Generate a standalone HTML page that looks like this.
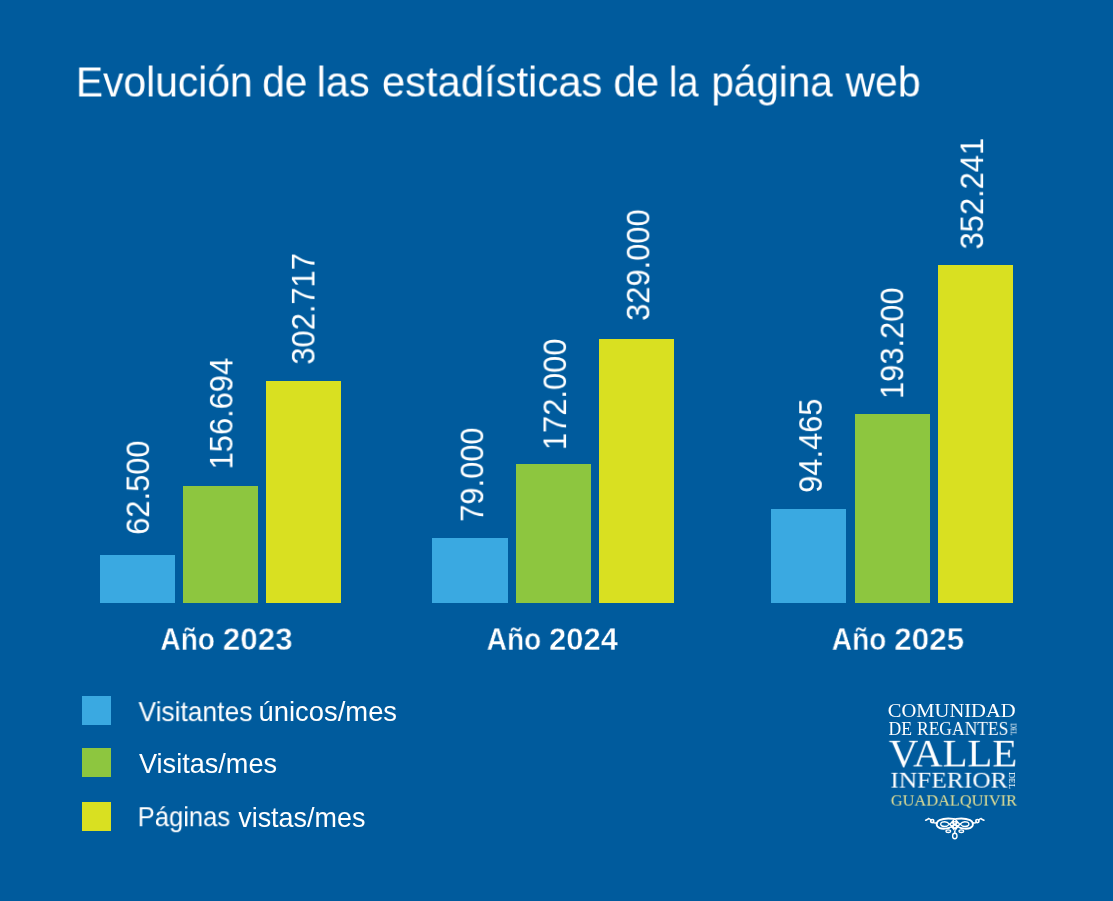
<!DOCTYPE html>
<html><head><meta charset="utf-8"><style>
html,body{margin:0;padding:0;}
body{width:1113px;height:901px;background:#005b9d;position:relative;overflow:hidden;}
.b{position:absolute;}
.t{position:absolute;left:0;top:0;line-height:1;white-space:nowrap;transform-origin:0 0;will-change:transform;}
</style></head><body>
<div class="b" style="left:100px;width:75.00px;top:555px;height:48.20px;background:#3aa9e1"></div>
<div class="b" style="left:183px;width:75.00px;top:486px;height:117.20px;background:#8dc63f"></div>
<div class="b" style="left:266px;width:75.00px;top:380.8px;height:222.40px;background:#d9e021"></div>
<div class="b" style="left:432.0px;width:75.50px;top:537.7px;height:65.50px;background:#3aa9e1"></div>
<div class="b" style="left:515.9px;width:74.90px;top:463.8px;height:139.40px;background:#8dc63f"></div>
<div class="b" style="left:599.1px;width:74.90px;top:339px;height:264.20px;background:#d9e021"></div>
<div class="b" style="left:770.9px;width:75.10px;top:509.4px;height:93.80px;background:#3aa9e1"></div>
<div class="b" style="left:854.7px;width:75.10px;top:413.7px;height:189.50px;background:#8dc63f"></div>
<div class="b" style="left:938.2px;width:74.60px;top:265px;height:338.20px;background:#d9e021"></div>
<div class="b" style="left:82px;width:29px;top:695.7px;height:29px;background:#3aa9e1"></div>
<div class="b" style="left:82px;width:29px;top:747.5px;height:29px;background:#8dc63f"></div>
<div class="b" style="left:82px;width:29px;top:801.5px;height:29px;background:#d9e021"></div>
<div class="t" style="font-family:'Liberation Sans',sans-serif;font-weight:normal;font-size:42px;color:#ffffff;transform:translate(75.89px,60.52px) scale(0.9706,1.0138)">Evolución</div>
<div class="t" style="font-family:'Liberation Sans',sans-serif;font-weight:normal;font-size:42px;color:#ffffff;transform:translate(262.23px,60.52px) scale(0.9682,1.0138)">de</div>
<div class="t" style="font-family:'Liberation Sans',sans-serif;font-weight:normal;font-size:42px;color:#ffffff;transform:translate(316.64px,60.52px) scale(0.9880,1.0138)">las</div>
<div class="t" style="font-family:'Liberation Sans',sans-serif;font-weight:normal;font-size:42px;color:#ffffff;transform:translate(381.91px,60.52px) scale(0.9936,1.0138)">estadísticas</div>
<div class="t" style="font-family:'Liberation Sans',sans-serif;font-weight:normal;font-size:42px;color:#ffffff;transform:translate(613.42px,60.52px) scale(0.9795,1.0138)">de</div>
<div class="t" style="font-family:'Liberation Sans',sans-serif;font-weight:normal;font-size:42px;color:#ffffff;transform:translate(668.87px,60.52px) scale(0.9100,1.0138)">la</div>
<div class="t" style="font-family:'Liberation Sans',sans-serif;font-weight:normal;font-size:42px;color:#ffffff;transform:translate(711.38px,60.52px) scale(0.9621,1.0138)">página</div>
<div class="t" style="font-family:'Liberation Sans',sans-serif;font-weight:normal;font-size:42px;color:#ffffff;transform:translate(845.60px,60.52px) scale(0.9724,1.0138)">web</div>
<div class="t" style="font-family:'Liberation Sans',sans-serif;font-weight:bold;font-size:31px;color:#ffffff;-webkit-text-stroke:0.5px #005b9d;transform:translate(160.29px,624.25px) scale(0.9086,0.9864)">Año</div>
<div class="t" style="font-family:'Liberation Sans',sans-serif;font-weight:bold;font-size:31px;color:#ffffff;-webkit-text-stroke:0.5px #005b9d;transform:translate(222.74px,624.25px) scale(1.0127,0.9864)">2023</div>
<div class="t" style="font-family:'Liberation Sans',sans-serif;font-weight:bold;font-size:31px;color:#ffffff;-webkit-text-stroke:0.5px #005b9d;transform:translate(486.59px,624.25px) scale(0.9086,0.9864)">Año</div>
<div class="t" style="font-family:'Liberation Sans',sans-serif;font-weight:bold;font-size:31px;color:#ffffff;-webkit-text-stroke:0.5px #005b9d;transform:translate(549.00px,624.25px) scale(1.0000,0.9864)">2024</div>
<div class="t" style="font-family:'Liberation Sans',sans-serif;font-weight:bold;font-size:31px;color:#ffffff;-webkit-text-stroke:0.5px #005b9d;transform:translate(831.69px,624.25px) scale(0.9086,0.9864)">Año</div>
<div class="t" style="font-family:'Liberation Sans',sans-serif;font-weight:bold;font-size:31px;color:#ffffff;-webkit-text-stroke:0.5px #005b9d;transform:translate(894.18px,624.25px) scale(1.0164,0.9864)">2025</div>
<div class="t" style="font-family:'Liberation Sans',sans-serif;font-weight:normal;font-size:26.5px;color:#ffffff;transform:translate(138.50px,698.19px) scale(0.9956,1.0278)">Visitantes</div>
<div class="t" style="font-family:'Liberation Sans',sans-serif;font-weight:normal;font-size:26.5px;color:#ffffff;transform:translate(258.57px,698.19px) scale(1.0333,1.0278)">únicos/mes</div>
<div class="t" style="font-family:'Liberation Sans',sans-serif;font-weight:normal;font-size:26.5px;color:#ffffff;transform:translate(139.00px,750.96px) scale(1.0224,1.0111)">Visitas/mes</div>
<div class="t" style="font-family:'Liberation Sans',sans-serif;font-weight:normal;font-size:26.5px;color:#ffffff;transform:translate(137.67px,804.26px) scale(0.9656,1.0111)">Páginas</div>
<div class="t" style="font-family:'Liberation Sans',sans-serif;font-weight:normal;font-size:26.5px;color:#ffffff;transform:translate(238.20px,804.26px) scale(1.0160,1.0111)">vistas/mes</div>
<div class="t" style="font-family:'Liberation Serif',serif;font-weight:normal;font-size:19px;color:#ffffff;transform:translate(887.72px,701.30px) scale(1.0821,1.0000)">COMUNIDAD</div>
<div class="t" style="font-family:'Liberation Serif',serif;font-weight:normal;font-size:17.5px;color:#ffffff;transform:translate(888.50px,720.01px) scale(1.0087,1.0636)">DE</div>
<div class="t" style="font-family:'Liberation Serif',serif;font-weight:normal;font-size:17.5px;color:#ffffff;transform:translate(917.00px,720.01px) scale(0.9978,1.0636)">REGANTES</div>
<div class="t" style="font-family:'Liberation Serif',serif;font-weight:normal;font-size:39px;color:#ffffff;transform:translate(888.80px,733.91px) scale(1.0463,0.9846)">VALLE</div>
<div class="t" style="font-family:'Liberation Serif',serif;font-weight:normal;font-size:22.6px;color:#ffffff;transform:translate(890.37px,769.84px) scale(1.1252,0.9867)">INFERIOR</div>
<div class="t" style="font-family:'Liberation Serif',serif;font-weight:normal;font-size:15.7px;color:#e4e094;transform:translate(890.80px,793.43px) scale(1.0413,0.9364)">GUADALQUIVIR</div>
<div class="t" style="font-family:'Liberation Sans',sans-serif;font-size:32.5px;color:#fff;transform:translate(122.63px,534.78px) rotate(-90deg) scale(0.9490,0.9820)">62.500</div>
<div class="t" style="font-family:'Liberation Sans',sans-serif;font-size:32.5px;color:#fff;transform:translate(205.98px,469.37px) rotate(-90deg) scale(0.9490,0.9820)">156.694</div>
<div class="t" style="font-family:'Liberation Sans',sans-serif;font-size:32.5px;color:#fff;transform:translate(287.98px,364.62px) rotate(-90deg) scale(0.9490,0.9820)">302.717</div>
<div class="t" style="font-family:'Liberation Sans',sans-serif;font-size:32.5px;color:#fff;transform:translate(456.73px,521.78px) rotate(-90deg) scale(0.9490,0.9820)">79.000</div>
<div class="t" style="font-family:'Liberation Sans',sans-serif;font-size:32.5px;color:#fff;transform:translate(539.58px,450.07px) rotate(-90deg) scale(0.9490,0.9820)">172.000</div>
<div class="t" style="font-family:'Liberation Sans',sans-serif;font-size:32.5px;color:#fff;transform:translate(622.83px,320.84px) rotate(-90deg) scale(0.9490,0.9820)">329.000</div>
<div class="t" style="font-family:'Liberation Sans',sans-serif;font-size:32.5px;color:#fff;transform:translate(795.28px,492.83px) rotate(-90deg) scale(0.9490,0.9820)">94.465</div>
<div class="t" style="font-family:'Liberation Sans',sans-serif;font-size:32.5px;color:#fff;transform:translate(876.73px,398.97px) rotate(-90deg) scale(0.9490,0.9820)">193.200</div>
<div class="t" style="font-family:'Liberation Sans',sans-serif;font-size:32.5px;color:#fff;transform:translate(956.63px,249.42px) rotate(-90deg) scale(0.9490,0.9820)">352.241</div>
<div class="t" style="font-family:'Liberation Serif',serif;font-size:7.0px;color:#fff;transform:translate(1016.50px,723.40px) rotate(90deg) scale(0.8923,1.1000)">DEL</div>
<div class="t" style="font-family:'Liberation Serif',serif;font-size:9.5px;color:#fff;transform:translate(1015.00px,772.20px) rotate(90deg) scale(0.9111,0.8714)">DEL</div>
<svg style="position:absolute;left:920px;top:812px" width="70" height="30" viewBox="0 0 70 30">
<defs>
<g id="half" fill="none" stroke="#fff" stroke-linecap="round">
<path stroke-width="1.9" d="M33.5 6.9 C28.5 6.2 23 6.6 19.5 8.2 C16.5 9.6 16.2 12.5 17.3 14.2 C18.8 16.4 23 17 27 16.4 C29.5 16 31.5 15.2 33 14.2"/>
<path stroke-width="1.4" d="M29.5 12.1 C27.5 9.8 24.5 9.4 22.2 10.2 C20.3 10.9 20.1 13.2 22 14 C24.5 15 27.5 14.3 29.5 12.1"/>
<path stroke-width="1.6" d="M17 10.9 C15.5 11.2 14 11 13 10.4"/>
<circle stroke-width="1.6" cx="12.2" cy="9.1" r="1.6"/>
<path stroke-width="1.5" d="M10.9 8 C10 7.2 9.2 6.6 8.6 6.6 C8.4 7.2 7.5 7.5 5.6 8.3"/>
<ellipse stroke-width="1.3" cx="28.3" cy="19.2" rx="2.3" ry="1.3"/>
</g>
</defs>
<use href="#half"/>
<use href="#half" transform="matrix(-1 0 0 1 69.6 0)"/>
<polygon fill="#fff" points="34.8,5.8 40.6,12.3 34.8,19.8 29.0,12.3"/>
<rect fill="#fff" x="34.1" y="18" width="1.4" height="3.5"/>
<g fill="#005b9d">
<ellipse cx="34.8" cy="8.6" rx="0.8" ry="0.6"/>
<ellipse cx="31.9" cy="12.3" rx="1.0" ry="0.7"/>
<ellipse cx="37.7" cy="12.3" rx="1.0" ry="0.7"/>
<ellipse cx="34.8" cy="14.5" rx="1.0" ry="0.7"/>
<ellipse cx="34.8" cy="10.7" rx="0.7" ry="0.5"/>
<ellipse cx="34.8" cy="18.0" rx="0.7" ry="0.6"/>
<ellipse cx="31" cy="16.4" rx="1.0" ry="0.6"/>
<ellipse cx="38.6" cy="16.4" rx="1.0" ry="0.6"/>
</g>
<ellipse cx="34.8" cy="24" rx="2.2" ry="2.7" fill="none" stroke="#fff" stroke-width="1.4"/>
</svg>

</body></html>
